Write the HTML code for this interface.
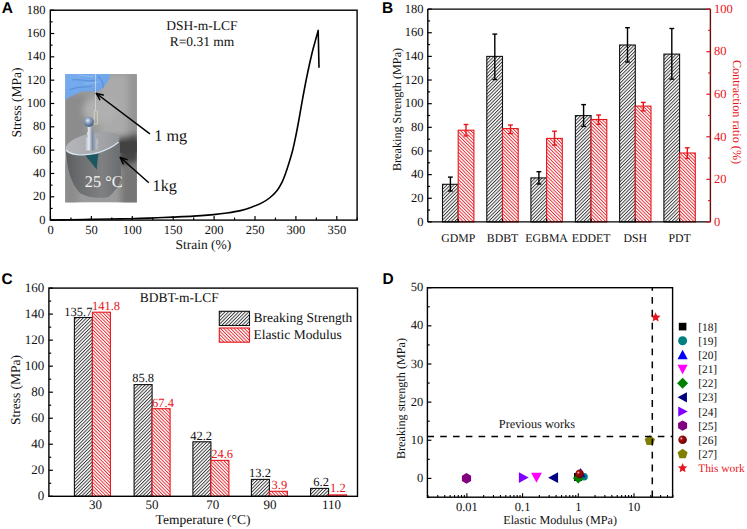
<!DOCTYPE html>
<html><head><meta charset="utf-8"><style>
html,body{margin:0;padding:0;background:#fff;}
svg{display:block;font-family:"Liberation Serif",serif;text-rendering:geometricPrecision;}
</style></head><body>
<svg width="747" height="529" viewBox="0 0 747 529" font-family="Liberation Serif, serif">
<rect width="747" height="529" fill="#fff"/>
<defs>
<pattern id="hatchK" patternUnits="userSpaceOnUse" width="2.4" height="2.4" patternTransform="rotate(45)">
<rect width="2.4" height="2.4" fill="#fff"/><line x1="0.5" y1="0" x2="0.5" y2="2.4" stroke="#222" stroke-width="0.85"/></pattern>
<pattern id="hatchR" patternUnits="userSpaceOnUse" width="2.4" height="2.4" patternTransform="rotate(-45)">
<rect width="2.4" height="2.4" fill="#fff"/><line x1="0.5" y1="0" x2="0.5" y2="2.4" stroke="#e8141c" stroke-width="0.85"/></pattern>
<radialGradient id="sph" cx="0.35" cy="0.35" r="0.7"><stop offset="0" stop-color="#ffd0d0"/><stop offset="0.25" stop-color="#a01010"/><stop offset="1" stop-color="#6a0000"/></radialGradient>
<linearGradient id="bgGrad" x1="0" y1="0" x2="1" y2="1"><stop offset="0" stop-color="#9a9a9c"/><stop offset="0.5" stop-color="#a8a8a8"/><stop offset="1" stop-color="#6e6e6e"/></linearGradient>
<linearGradient id="gloveGrad" x1="0" y1="0" x2="1" y2="1"><stop offset="0" stop-color="#78aef0"/><stop offset="0.6" stop-color="#70a5ea"/><stop offset="1" stop-color="#6498e0"/></linearGradient>
<linearGradient id="cylGrad" x1="0" y1="0" x2="1" y2="0"><stop offset="0" stop-color="#5c5e60"/><stop offset="0.3" stop-color="#6e7072"/><stop offset="0.65" stop-color="#7e8082"/><stop offset="1" stop-color="#6a6c6e"/></linearGradient>
<linearGradient id="topGrad" x1="0" y1="0" x2="1" y2="0"><stop offset="0" stop-color="#b4b6b9"/><stop offset="0.5" stop-color="#a9abae"/><stop offset="1" stop-color="#94969a"/></linearGradient>
<radialGradient id="ballGrad" cx="0.4" cy="0.35" r="0.7"><stop offset="0" stop-color="#e8eef6"/><stop offset="0.4" stop-color="#8aa0bc"/><stop offset="1" stop-color="#3c5274"/></radialGradient>
<linearGradient id="knobGrad" x1="0" y1="0" x2="1" y2="0"><stop offset="0" stop-color="#9aa2ac"/><stop offset="0.35" stop-color="#e8eaee"/><stop offset="0.6" stop-color="#7c8aa0"/><stop offset="1" stop-color="#c8ccd2"/></linearGradient>
<filter id="soft" x="-20%" y="-20%" width="140%" height="140%"><feGaussianBlur stdDeviation="3"/></filter>
<filter id="soft2" x="-10%" y="-10%" width="120%" height="120%"><feGaussianBlur stdDeviation="0.6"/></filter>
</defs>
<g id="photo">
<clipPath id="phclip"><rect x="65.2" y="73.9" width="71.7" height="128.7"/></clipPath>
<g clip-path="url(#phclip)">
<rect x="65.2" y="73.9" width="71.7" height="128.7" fill="#9a9a9a"/>
<g filter="url(#soft)">
<rect x="100" y="74" width="40" height="62" fill="#aaaaaa"/>
<rect x="62" y="95" width="24" height="55" fill="#8c8c8c"/>
<ellipse cx="100" cy="110" rx="17" ry="13" fill="#b0b0b0"/>
<rect x="128" y="74" width="12" height="60" fill="#959595"/>
<path d="M116 138 L140 133 L140 162 L120 166 Z" fill="#454545"/>
<rect x="121" y="166" width="20" height="40" fill="#767676"/>
<rect x="60" y="160" width="18" height="45" fill="#8c8c8c"/>
</g>
<g filter="url(#soft2)">
<path d="M117 142 L138 141.5 L138 152.5 L118 153 Z" fill="#424242"/>
<path d="M65.8 149 C66.5 168 71 183 79 192 C85 197.5 100 199 108 197 C114 193 119 186 121.2 178 L119.5 137 Z" fill="url(#cylGrad)"/>
<path d="M65.6 148.4 C66 142 80 134 98 132.5 C110 131.8 119.5 133 119.5 138 C119.5 143 108 150 94 153.5 C82 156 66 155 65.6 148.4 Z" fill="url(#topGrad)"/>
<path d="M66 150 C70 155 82 156 94 153.8 C105 151 113 147 118.6 142" stroke="#d4e2f2" stroke-width="1.4" fill="none"/>
<path d="M85.5 155.5 L98.5 153.8 C97.5 159 97 165 96.8 169.5 C93 165 89 160 85.5 155.5 Z" fill="#1f5862"/>
<path d="M64 73 H110 C110.5 78 108 82 104.5 86 C101 90 98 91.5 93 91.5 C88 91.5 85 90.5 81 92 C76 93.5 70 96.5 64 101 Z" fill="url(#gloveGrad)"/>
<path d="M72 80 C80 78 88 83 96 80 M70 90 C76 86 84 88 92 86 M98 76 C102 80 104 84 103 88" stroke="#4d84cc" stroke-width="1.2" fill="none" opacity="0.6"/>
<path d="M78 76 C84 74 90 78 94 76 M84 84 C88 82 94 84 99 82" stroke="#9cc4f4" stroke-width="1.2" fill="none" opacity="0.6"/>
</g>
<line x1="95.5" y1="74" x2="95.6" y2="111" stroke="#e4eaee" stroke-width="0.8" opacity="0.75"/>
<path d="M94.5 110 L93.8 124 M97.2 110 L97.6 124 M93.8 124 L97.6 124" stroke="#d9d2bb" stroke-width="0.9" fill="none"/>
<path d="M87 125 L92 125 L92.5 131 C95 132 96 134 94 136.5 C98 138.5 99 142 97 145 C98 147 98 149 96.5 150.5 L85.5 150.5 C84 149 84 147 85 145 C83 142 84 138.5 88 136.5 C86 134 87 132 88 131 Z" fill="url(#knobGrad)"/>
<circle cx="88.8" cy="122" r="5" fill="url(#ballGrad)"/>
<text x="84.8" y="187" font-size="16.3" fill="#f6f6f6">25 °C</text>
</g>
</g>
<path d="M50.60 220.00 C53.83 219.97 63.43 219.90 70.00 219.80 C76.57 219.70 83.33 219.53 90.00 219.40 C96.67 219.27 104.17 219.10 110.00 219.00 C115.83 218.90 120.00 218.90 125.00 218.80 C130.00 218.70 134.67 218.57 140.00 218.40 C145.33 218.23 151.53 218.02 157.00 217.80 C162.47 217.58 166.72 217.38 172.80 217.10 C178.88 216.82 186.70 216.52 193.50 216.10 C200.30 215.68 208.02 215.12 213.60 214.60 C219.18 214.08 222.52 213.67 227.00 213.00 C231.48 212.33 236.42 211.57 240.50 210.60 C244.58 209.63 247.87 208.53 251.50 207.20 C255.13 205.87 259.30 204.13 262.30 202.60 C265.30 201.07 267.10 199.93 269.50 198.00 C271.90 196.07 274.60 193.65 276.70 191.00 C278.80 188.35 280.60 185.08 282.10 182.10 C283.60 179.12 284.52 176.40 285.70 173.10 C286.88 169.80 288.02 166.20 289.20 162.30 C290.38 158.40 291.75 153.83 292.80 149.70 C293.85 145.57 294.53 142.20 295.50 137.50 C296.47 132.80 297.32 128.50 298.60 121.50 C299.88 114.50 301.68 103.67 303.20 95.50 C304.72 87.33 306.18 79.75 307.70 72.50 C309.22 65.25 310.97 57.50 312.30 52.00 C313.63 46.50 314.72 43.10 315.70 39.50 C316.68 35.90 317.78 31.92 318.20 30.40 L319.0 67.7" fill="none" stroke="#000" stroke-width="1.6" stroke-linejoin="round"/>
<rect x="50.3" y="10.2" width="306.8" height="209.9" fill="none" stroke="#000" stroke-width="1.4"/>
<line x1="50.30" y1="220.10" x2="54.30" y2="220.10" stroke="#000" stroke-width="1.2" />
<text x="45.40" y="223.60" font-size="12.5" text-anchor="end" fill="#111" >0</text>
<line x1="50.30" y1="208.44" x2="52.60" y2="208.44" stroke="#000" stroke-width="1.2" />
<line x1="50.30" y1="196.78" x2="54.30" y2="196.78" stroke="#000" stroke-width="1.2" />
<text x="45.40" y="200.28" font-size="12.5" text-anchor="end" fill="#111" >20</text>
<line x1="50.30" y1="185.12" x2="52.60" y2="185.12" stroke="#000" stroke-width="1.2" />
<line x1="50.30" y1="173.46" x2="54.30" y2="173.46" stroke="#000" stroke-width="1.2" />
<text x="45.40" y="176.96" font-size="12.5" text-anchor="end" fill="#111" >40</text>
<line x1="50.30" y1="161.79" x2="52.60" y2="161.79" stroke="#000" stroke-width="1.2" />
<line x1="50.30" y1="150.13" x2="54.30" y2="150.13" stroke="#000" stroke-width="1.2" />
<text x="45.40" y="153.63" font-size="12.5" text-anchor="end" fill="#111" >60</text>
<line x1="50.30" y1="138.47" x2="52.60" y2="138.47" stroke="#000" stroke-width="1.2" />
<line x1="50.30" y1="126.81" x2="54.30" y2="126.81" stroke="#000" stroke-width="1.2" />
<text x="45.40" y="130.31" font-size="12.5" text-anchor="end" fill="#111" >80</text>
<line x1="50.30" y1="115.15" x2="52.60" y2="115.15" stroke="#000" stroke-width="1.2" />
<line x1="50.30" y1="103.49" x2="54.30" y2="103.49" stroke="#000" stroke-width="1.2" />
<text x="45.40" y="106.99" font-size="12.5" text-anchor="end" fill="#111" >100</text>
<line x1="50.30" y1="91.83" x2="52.60" y2="91.83" stroke="#000" stroke-width="1.2" />
<line x1="50.30" y1="80.17" x2="54.30" y2="80.17" stroke="#000" stroke-width="1.2" />
<text x="45.40" y="83.67" font-size="12.5" text-anchor="end" fill="#111" >120</text>
<line x1="50.30" y1="68.51" x2="52.60" y2="68.51" stroke="#000" stroke-width="1.2" />
<line x1="50.30" y1="56.84" x2="54.30" y2="56.84" stroke="#000" stroke-width="1.2" />
<text x="45.40" y="60.34" font-size="12.5" text-anchor="end" fill="#111" >140</text>
<line x1="50.30" y1="45.18" x2="52.60" y2="45.18" stroke="#000" stroke-width="1.2" />
<line x1="50.30" y1="33.52" x2="54.30" y2="33.52" stroke="#000" stroke-width="1.2" />
<text x="45.40" y="37.02" font-size="12.5" text-anchor="end" fill="#111" >160</text>
<line x1="50.30" y1="21.86" x2="52.60" y2="21.86" stroke="#000" stroke-width="1.2" />
<line x1="50.30" y1="10.20" x2="54.30" y2="10.20" stroke="#000" stroke-width="1.2" />
<text x="45.40" y="13.70" font-size="12.5" text-anchor="end" fill="#111" >180</text>
<line x1="50.50" y1="220.10" x2="50.50" y2="216.10" stroke="#000" stroke-width="1.2" />
<text x="50.50" y="234.20" font-size="12.5" text-anchor="middle" fill="#111" >0</text>
<line x1="70.95" y1="220.10" x2="70.95" y2="217.60" stroke="#000" stroke-width="1.2" />
<line x1="91.40" y1="220.10" x2="91.40" y2="216.10" stroke="#000" stroke-width="1.2" />
<text x="91.40" y="234.20" font-size="12.5" text-anchor="middle" fill="#111" >50</text>
<line x1="111.85" y1="220.10" x2="111.85" y2="217.60" stroke="#000" stroke-width="1.2" />
<line x1="132.30" y1="220.10" x2="132.30" y2="216.10" stroke="#000" stroke-width="1.2" />
<text x="132.30" y="234.20" font-size="12.5" text-anchor="middle" fill="#111" >100</text>
<line x1="152.75" y1="220.10" x2="152.75" y2="217.60" stroke="#000" stroke-width="1.2" />
<line x1="173.20" y1="220.10" x2="173.20" y2="216.10" stroke="#000" stroke-width="1.2" />
<text x="173.20" y="234.20" font-size="12.5" text-anchor="middle" fill="#111" >150</text>
<line x1="193.65" y1="220.10" x2="193.65" y2="217.60" stroke="#000" stroke-width="1.2" />
<line x1="214.10" y1="220.10" x2="214.10" y2="216.10" stroke="#000" stroke-width="1.2" />
<text x="214.10" y="234.20" font-size="12.5" text-anchor="middle" fill="#111" >200</text>
<line x1="234.55" y1="220.10" x2="234.55" y2="217.60" stroke="#000" stroke-width="1.2" />
<line x1="255.00" y1="220.10" x2="255.00" y2="216.10" stroke="#000" stroke-width="1.2" />
<text x="255.00" y="234.20" font-size="12.5" text-anchor="middle" fill="#111" >250</text>
<line x1="275.45" y1="220.10" x2="275.45" y2="217.60" stroke="#000" stroke-width="1.2" />
<line x1="295.90" y1="220.10" x2="295.90" y2="216.10" stroke="#000" stroke-width="1.2" />
<text x="295.90" y="234.20" font-size="12.5" text-anchor="middle" fill="#111" >300</text>
<line x1="316.35" y1="220.10" x2="316.35" y2="217.60" stroke="#000" stroke-width="1.2" />
<line x1="336.80" y1="220.10" x2="336.80" y2="216.10" stroke="#000" stroke-width="1.2" />
<text x="336.80" y="234.20" font-size="12.5" text-anchor="middle" fill="#111" >350</text>
<line x1="357.25" y1="220.10" x2="357.25" y2="217.60" stroke="#000" stroke-width="1.2" />
<text x="203.40" y="249.10" font-size="13.5" text-anchor="middle" fill="#111" >Strain (%)</text>
<text transform="translate(21.3,102.5) rotate(-90)" font-size="13.5" text-anchor="middle" fill="#111">Stress (MPa)</text>
<text x="202.00" y="29.60" font-size="13.5" text-anchor="middle" fill="#111" >DSH-m-LCF</text>
<text x="202.00" y="46.10" font-size="13.5" text-anchor="middle" fill="#111" >R=0.31 mm</text>
<line x1="149.90" y1="133.90" x2="96.40" y2="93.50" stroke="#000" stroke-width="1.5" />
<line x1="96.40" y1="93.50" x2="99.78" y2="99.63" stroke="#000" stroke-width="1.5" stroke-linecap="round"/>
<line x1="96.40" y1="93.50" x2="103.22" y2="95.07" stroke="#000" stroke-width="1.5" stroke-linecap="round"/>
<line x1="148.80" y1="182.70" x2="120.30" y2="157.50" stroke="#000" stroke-width="1.5" />
<line x1="120.30" y1="157.50" x2="123.20" y2="163.87" stroke="#000" stroke-width="1.5" stroke-linecap="round"/>
<line x1="120.30" y1="157.50" x2="126.98" y2="159.60" stroke="#000" stroke-width="1.5" stroke-linecap="round"/>
<text x="154.30" y="140.70" font-size="16.2" text-anchor="start" fill="#111" >1 mg</text>
<text x="152.60" y="190.80" font-size="16.2" text-anchor="start" fill="#111" >1kg</text>
<rect x="442.50" y="184.3" width="15.7" height="37.60" fill="url(#hatchK)" stroke="#111" stroke-width="1.1"/>
<rect x="458.20" y="130.2" width="15.7" height="91.70" fill="url(#hatchR)" stroke="#e8141c" stroke-width="1.1"/>
<rect x="486.80" y="56.4" width="15.7" height="165.50" fill="url(#hatchK)" stroke="#111" stroke-width="1.1"/>
<rect x="502.50" y="128.6" width="15.7" height="93.30" fill="url(#hatchR)" stroke="#e8141c" stroke-width="1.1"/>
<rect x="530.90" y="177.9" width="15.7" height="44.00" fill="url(#hatchK)" stroke="#111" stroke-width="1.1"/>
<rect x="546.60" y="138.4" width="15.7" height="83.50" fill="url(#hatchR)" stroke="#e8141c" stroke-width="1.1"/>
<rect x="575.40" y="115.6" width="15.7" height="106.30" fill="url(#hatchK)" stroke="#111" stroke-width="1.1"/>
<rect x="591.10" y="119.5" width="15.7" height="102.40" fill="url(#hatchR)" stroke="#e8141c" stroke-width="1.1"/>
<rect x="619.60" y="45.0" width="15.7" height="176.90" fill="url(#hatchK)" stroke="#111" stroke-width="1.1"/>
<rect x="635.30" y="106.1" width="15.7" height="115.80" fill="url(#hatchR)" stroke="#e8141c" stroke-width="1.1"/>
<rect x="663.90" y="54.1" width="15.7" height="167.80" fill="url(#hatchK)" stroke="#111" stroke-width="1.1"/>
<rect x="679.60" y="153.0" width="15.7" height="68.90" fill="url(#hatchR)" stroke="#e8141c" stroke-width="1.1"/>
<line x1="450.40" y1="177.10" x2="450.40" y2="191.00" stroke="#000" stroke-width="1.4" />
<line x1="448.00" y1="177.10" x2="452.80" y2="177.10" stroke="#000" stroke-width="1.4" />
<line x1="448.00" y1="191.00" x2="452.80" y2="191.00" stroke="#000" stroke-width="1.4" />
<line x1="466.00" y1="124.50" x2="466.00" y2="135.90" stroke="#e8141c" stroke-width="1.4" />
<line x1="463.60" y1="124.50" x2="468.40" y2="124.50" stroke="#e8141c" stroke-width="1.4" />
<line x1="463.60" y1="135.90" x2="468.40" y2="135.90" stroke="#e8141c" stroke-width="1.4" />
<text x="458.20" y="242.10" font-size="11.8" text-anchor="middle" fill="#111" >GDMP</text>
<line x1="494.80" y1="34.10" x2="494.80" y2="79.50" stroke="#000" stroke-width="1.4" />
<line x1="492.40" y1="34.10" x2="497.20" y2="34.10" stroke="#000" stroke-width="1.4" />
<line x1="492.40" y1="79.50" x2="497.20" y2="79.50" stroke="#000" stroke-width="1.4" />
<line x1="510.50" y1="125.00" x2="510.50" y2="133.60" stroke="#e8141c" stroke-width="1.4" />
<line x1="508.10" y1="125.00" x2="512.90" y2="125.00" stroke="#e8141c" stroke-width="1.4" />
<line x1="508.10" y1="133.60" x2="512.90" y2="133.60" stroke="#e8141c" stroke-width="1.4" />
<text x="502.50" y="242.10" font-size="11.8" text-anchor="middle" fill="#111" >BDBT</text>
<line x1="538.90" y1="171.70" x2="538.90" y2="184.00" stroke="#000" stroke-width="1.4" />
<line x1="536.50" y1="171.70" x2="541.30" y2="171.70" stroke="#000" stroke-width="1.4" />
<line x1="536.50" y1="184.00" x2="541.30" y2="184.00" stroke="#000" stroke-width="1.4" />
<line x1="554.50" y1="131.20" x2="554.50" y2="145.10" stroke="#e8141c" stroke-width="1.4" />
<line x1="552.10" y1="131.20" x2="556.90" y2="131.20" stroke="#e8141c" stroke-width="1.4" />
<line x1="552.10" y1="145.10" x2="556.90" y2="145.10" stroke="#e8141c" stroke-width="1.4" />
<text x="546.60" y="242.10" font-size="11.8" text-anchor="middle" fill="#111" >EGBMA</text>
<line x1="583.60" y1="104.60" x2="583.60" y2="126.40" stroke="#000" stroke-width="1.4" />
<line x1="581.20" y1="104.60" x2="586.00" y2="104.60" stroke="#000" stroke-width="1.4" />
<line x1="581.20" y1="126.40" x2="586.00" y2="126.40" stroke="#000" stroke-width="1.4" />
<line x1="598.60" y1="115.00" x2="598.60" y2="124.30" stroke="#e8141c" stroke-width="1.4" />
<line x1="596.20" y1="115.00" x2="601.00" y2="115.00" stroke="#e8141c" stroke-width="1.4" />
<line x1="596.20" y1="124.30" x2="601.00" y2="124.30" stroke="#e8141c" stroke-width="1.4" />
<text x="591.10" y="242.10" font-size="11.8" text-anchor="middle" fill="#111" >EDDET</text>
<line x1="627.50" y1="27.70" x2="627.50" y2="62.00" stroke="#000" stroke-width="1.4" />
<line x1="625.10" y1="27.70" x2="629.90" y2="27.70" stroke="#000" stroke-width="1.4" />
<line x1="625.10" y1="62.00" x2="629.90" y2="62.00" stroke="#000" stroke-width="1.4" />
<line x1="643.30" y1="102.40" x2="643.30" y2="110.90" stroke="#e8141c" stroke-width="1.4" />
<line x1="640.90" y1="102.40" x2="645.70" y2="102.40" stroke="#e8141c" stroke-width="1.4" />
<line x1="640.90" y1="110.90" x2="645.70" y2="110.90" stroke="#e8141c" stroke-width="1.4" />
<text x="635.30" y="242.10" font-size="11.8" text-anchor="middle" fill="#111" >DSH</text>
<line x1="671.80" y1="28.50" x2="671.80" y2="79.10" stroke="#000" stroke-width="1.4" />
<line x1="669.40" y1="28.50" x2="674.20" y2="28.50" stroke="#000" stroke-width="1.4" />
<line x1="669.40" y1="79.10" x2="674.20" y2="79.10" stroke="#000" stroke-width="1.4" />
<line x1="687.30" y1="147.80" x2="687.30" y2="158.40" stroke="#e8141c" stroke-width="1.4" />
<line x1="684.90" y1="147.80" x2="689.70" y2="147.80" stroke="#e8141c" stroke-width="1.4" />
<line x1="684.90" y1="158.40" x2="689.70" y2="158.40" stroke="#e8141c" stroke-width="1.4" />
<text x="679.60" y="242.10" font-size="11.8" text-anchor="middle" fill="#111" >PDT</text>
<line x1="427.80" y1="9.10" x2="710.40" y2="9.10" stroke="#000" stroke-width="1.4" />
<line x1="427.80" y1="9.10" x2="427.80" y2="221.90" stroke="#000" stroke-width="1.4" />
<line x1="427.80" y1="221.90" x2="710.40" y2="221.90" stroke="#000" stroke-width="1.4" />
<line x1="458.20" y1="221.90" x2="458.20" y2="218.90" stroke="#000" stroke-width="1.2" />
<line x1="502.50" y1="221.90" x2="502.50" y2="218.90" stroke="#000" stroke-width="1.2" />
<line x1="546.60" y1="221.90" x2="546.60" y2="218.90" stroke="#000" stroke-width="1.2" />
<line x1="591.10" y1="221.90" x2="591.10" y2="218.90" stroke="#000" stroke-width="1.2" />
<line x1="635.30" y1="221.90" x2="635.30" y2="218.90" stroke="#000" stroke-width="1.2" />
<line x1="679.60" y1="221.90" x2="679.60" y2="218.90" stroke="#000" stroke-width="1.2" />
<line x1="710.40" y1="9.10" x2="710.40" y2="221.90" stroke="#6a0a0a" stroke-width="1.4" />
<line x1="427.80" y1="221.90" x2="431.80" y2="221.90" stroke="#000" stroke-width="1.2" />
<text x="423.60" y="225.50" font-size="12.5" text-anchor="end" fill="#111" >0</text>
<line x1="427.80" y1="210.08" x2="430.10" y2="210.08" stroke="#000" stroke-width="1.2" />
<line x1="427.80" y1="198.26" x2="431.80" y2="198.26" stroke="#000" stroke-width="1.2" />
<text x="423.60" y="201.86" font-size="12.5" text-anchor="end" fill="#111" >20</text>
<line x1="427.80" y1="186.43" x2="430.10" y2="186.43" stroke="#000" stroke-width="1.2" />
<line x1="427.80" y1="174.61" x2="431.80" y2="174.61" stroke="#000" stroke-width="1.2" />
<text x="423.60" y="178.21" font-size="12.5" text-anchor="end" fill="#111" >40</text>
<line x1="427.80" y1="162.79" x2="430.10" y2="162.79" stroke="#000" stroke-width="1.2" />
<line x1="427.80" y1="150.97" x2="431.80" y2="150.97" stroke="#000" stroke-width="1.2" />
<text x="423.60" y="154.57" font-size="12.5" text-anchor="end" fill="#111" >60</text>
<line x1="427.80" y1="139.14" x2="430.10" y2="139.14" stroke="#000" stroke-width="1.2" />
<line x1="427.80" y1="127.32" x2="431.80" y2="127.32" stroke="#000" stroke-width="1.2" />
<text x="423.60" y="130.92" font-size="12.5" text-anchor="end" fill="#111" >80</text>
<line x1="427.80" y1="115.50" x2="430.10" y2="115.50" stroke="#000" stroke-width="1.2" />
<line x1="427.80" y1="103.68" x2="431.80" y2="103.68" stroke="#000" stroke-width="1.2" />
<text x="423.60" y="107.28" font-size="12.5" text-anchor="end" fill="#111" >100</text>
<line x1="427.80" y1="91.86" x2="430.10" y2="91.86" stroke="#000" stroke-width="1.2" />
<line x1="427.80" y1="80.03" x2="431.80" y2="80.03" stroke="#000" stroke-width="1.2" />
<text x="423.60" y="83.63" font-size="12.5" text-anchor="end" fill="#111" >120</text>
<line x1="427.80" y1="68.21" x2="430.10" y2="68.21" stroke="#000" stroke-width="1.2" />
<line x1="427.80" y1="56.39" x2="431.80" y2="56.39" stroke="#000" stroke-width="1.2" />
<text x="423.60" y="59.99" font-size="12.5" text-anchor="end" fill="#111" >140</text>
<line x1="427.80" y1="44.57" x2="430.10" y2="44.57" stroke="#000" stroke-width="1.2" />
<line x1="427.80" y1="32.74" x2="431.80" y2="32.74" stroke="#000" stroke-width="1.2" />
<text x="423.60" y="36.34" font-size="12.5" text-anchor="end" fill="#111" >160</text>
<line x1="427.80" y1="20.92" x2="430.10" y2="20.92" stroke="#000" stroke-width="1.2" />
<line x1="427.80" y1="9.10" x2="431.80" y2="9.10" stroke="#000" stroke-width="1.2" />
<text x="423.60" y="12.70" font-size="12.5" text-anchor="end" fill="#111" >180</text>
<line x1="710.40" y1="221.90" x2="706.40" y2="221.90" stroke="#e8141c" stroke-width="1.2" />
<text x="714.00" y="225.70" font-size="12.5" text-anchor="start" fill="#e8141c" >0</text>
<line x1="710.40" y1="200.62" x2="708.10" y2="200.62" stroke="#e8141c" stroke-width="1.2" />
<line x1="710.40" y1="179.34" x2="706.40" y2="179.34" stroke="#e8141c" stroke-width="1.2" />
<text x="714.00" y="183.14" font-size="12.5" text-anchor="start" fill="#e8141c" >20</text>
<line x1="710.40" y1="158.06" x2="708.10" y2="158.06" stroke="#e8141c" stroke-width="1.2" />
<line x1="710.40" y1="136.78" x2="706.40" y2="136.78" stroke="#e8141c" stroke-width="1.2" />
<text x="714.00" y="140.58" font-size="12.5" text-anchor="start" fill="#e8141c" >40</text>
<line x1="710.40" y1="115.50" x2="708.10" y2="115.50" stroke="#e8141c" stroke-width="1.2" />
<line x1="710.40" y1="94.22" x2="706.40" y2="94.22" stroke="#e8141c" stroke-width="1.2" />
<text x="714.00" y="98.02" font-size="12.5" text-anchor="start" fill="#e8141c" >60</text>
<line x1="710.40" y1="72.94" x2="708.10" y2="72.94" stroke="#e8141c" stroke-width="1.2" />
<line x1="710.40" y1="51.66" x2="706.40" y2="51.66" stroke="#e8141c" stroke-width="1.2" />
<text x="714.00" y="55.46" font-size="12.5" text-anchor="start" fill="#e8141c" >80</text>
<line x1="710.40" y1="30.38" x2="708.10" y2="30.38" stroke="#e8141c" stroke-width="1.2" />
<line x1="710.40" y1="9.10" x2="706.40" y2="9.10" stroke="#e8141c" stroke-width="1.2" />
<text x="714.00" y="12.90" font-size="12.5" text-anchor="start" fill="#e8141c" >100</text>
<text transform="translate(401.3,109.5) rotate(-90)" font-size="12.2" text-anchor="middle" fill="#111">Breaking Strength (MPa)</text>
<text transform="translate(733.1,112) rotate(90)" font-size="12.2" text-anchor="middle" fill="#e8141c">Contraction ratio (%)</text>
<rect x="74.40" y="317.50" width="18.0" height="178.80" fill="url(#hatchK)" stroke="#111" stroke-width="1.1"/>
<rect x="92.40" y="312.20" width="18.0" height="184.10" fill="url(#hatchR)" stroke="#e8141c" stroke-width="1.1"/>
<rect x="134.10" y="384.60" width="18.0" height="111.70" fill="url(#hatchK)" stroke="#111" stroke-width="1.1"/>
<rect x="152.10" y="408.70" width="18.0" height="87.60" fill="url(#hatchR)" stroke="#e8141c" stroke-width="1.1"/>
<rect x="192.90" y="441.80" width="18.0" height="54.50" fill="url(#hatchK)" stroke="#111" stroke-width="1.1"/>
<rect x="210.90" y="460.40" width="18.0" height="35.90" fill="url(#hatchR)" stroke="#e8141c" stroke-width="1.1"/>
<rect x="251.40" y="479.40" width="18.0" height="16.90" fill="url(#hatchK)" stroke="#111" stroke-width="1.1"/>
<rect x="269.40" y="491.30" width="18.0" height="5.00" fill="url(#hatchR)" stroke="#e8141c" stroke-width="1.1"/>
<rect x="310.60" y="488.40" width="18.0" height="7.90" fill="url(#hatchK)" stroke="#111" stroke-width="1.1"/>
<rect x="328.60" y="494.90" width="18.0" height="1.40" fill="url(#hatchR)" stroke="#e8141c" stroke-width="1.1"/>
<rect x="48.9" y="288.1" width="308.6" height="208.2" fill="none" stroke="#000" stroke-width="1.4"/>
<line x1="48.90" y1="496.30" x2="52.90" y2="496.30" stroke="#000" stroke-width="1.2" />
<text x="44.20" y="499.80" font-size="13" text-anchor="end" fill="#111" >0</text>
<line x1="48.90" y1="483.29" x2="51.20" y2="483.29" stroke="#000" stroke-width="1.2" />
<line x1="48.90" y1="470.28" x2="52.90" y2="470.28" stroke="#000" stroke-width="1.2" />
<text x="44.20" y="473.78" font-size="13" text-anchor="end" fill="#111" >20</text>
<line x1="48.90" y1="457.26" x2="51.20" y2="457.26" stroke="#000" stroke-width="1.2" />
<line x1="48.90" y1="444.25" x2="52.90" y2="444.25" stroke="#000" stroke-width="1.2" />
<text x="44.20" y="447.75" font-size="13" text-anchor="end" fill="#111" >40</text>
<line x1="48.90" y1="431.24" x2="51.20" y2="431.24" stroke="#000" stroke-width="1.2" />
<line x1="48.90" y1="418.23" x2="52.90" y2="418.23" stroke="#000" stroke-width="1.2" />
<text x="44.20" y="421.73" font-size="13" text-anchor="end" fill="#111" >60</text>
<line x1="48.90" y1="405.21" x2="51.20" y2="405.21" stroke="#000" stroke-width="1.2" />
<line x1="48.90" y1="392.20" x2="52.90" y2="392.20" stroke="#000" stroke-width="1.2" />
<text x="44.20" y="395.70" font-size="13" text-anchor="end" fill="#111" >80</text>
<line x1="48.90" y1="379.19" x2="51.20" y2="379.19" stroke="#000" stroke-width="1.2" />
<line x1="48.90" y1="366.18" x2="52.90" y2="366.18" stroke="#000" stroke-width="1.2" />
<text x="44.20" y="369.68" font-size="13" text-anchor="end" fill="#111" >100</text>
<line x1="48.90" y1="353.16" x2="51.20" y2="353.16" stroke="#000" stroke-width="1.2" />
<line x1="48.90" y1="340.15" x2="52.90" y2="340.15" stroke="#000" stroke-width="1.2" />
<text x="44.20" y="343.65" font-size="13" text-anchor="end" fill="#111" >120</text>
<line x1="48.90" y1="327.14" x2="51.20" y2="327.14" stroke="#000" stroke-width="1.2" />
<line x1="48.90" y1="314.12" x2="52.90" y2="314.12" stroke="#000" stroke-width="1.2" />
<text x="44.20" y="317.62" font-size="13" text-anchor="end" fill="#111" >140</text>
<line x1="48.90" y1="301.11" x2="51.20" y2="301.11" stroke="#000" stroke-width="1.2" />
<line x1="48.90" y1="288.10" x2="52.90" y2="288.10" stroke="#000" stroke-width="1.2" />
<text x="44.20" y="291.60" font-size="13" text-anchor="end" fill="#111" >160</text>
<text x="92.40" y="315.70" font-size="12.5" text-anchor="end" fill="#111" >135.7</text>
<text x="91.90" y="309.70" font-size="12.5" text-anchor="start" fill="#e8141c" >141.8</text>
<text x="154.00" y="382.30" font-size="12.5" text-anchor="end" fill="#111" >85.8</text>
<text x="152.00" y="407.20" font-size="12.5" text-anchor="start" fill="#e8141c" >67.4</text>
<text x="212.00" y="439.60" font-size="12.5" text-anchor="end" fill="#111" >42.2</text>
<text x="211.20" y="458.30" font-size="12.5" text-anchor="start" fill="#e8141c" >24.6</text>
<text x="270.90" y="476.50" font-size="12.5" text-anchor="end" fill="#111" >13.2</text>
<text x="271.60" y="488.80" font-size="12.5" text-anchor="start" fill="#e8141c" >3.9</text>
<text x="328.90" y="485.70" font-size="12.5" text-anchor="end" fill="#111" >6.2</text>
<text x="330.00" y="492.40" font-size="12.5" text-anchor="start" fill="#e8141c" >1.2</text>
<text x="95.40" y="509.30" font-size="13" text-anchor="middle" fill="#111" >30</text>
<text x="152.00" y="509.30" font-size="13" text-anchor="middle" fill="#111" >50</text>
<text x="212.80" y="509.30" font-size="13" text-anchor="middle" fill="#111" >70</text>
<text x="270.00" y="509.30" font-size="13" text-anchor="middle" fill="#111" >90</text>
<text x="331.50" y="509.30" font-size="13" text-anchor="middle" fill="#111" >110</text>
<text x="203.00" y="524.40" font-size="13.5" text-anchor="middle" fill="#111" >Temperature (°C)</text>
<text transform="translate(19.6,390) rotate(-90)" font-size="13.5" text-anchor="middle" fill="#111">Stress (MPa)</text>
<text x="179.30" y="302.40" font-size="13.5" text-anchor="middle" fill="#111" >BDBT-m-LCF</text>
<rect x="219.3" y="311.3" width="30.2" height="14.2" fill="url(#hatchK)" stroke="#111" stroke-width="1.1"/>
<rect x="219.3" y="328.0" width="30.2" height="14.2" fill="url(#hatchR)" stroke="#e8141c" stroke-width="1.1"/>
<text x="253.60" y="322.10" font-size="13.5" text-anchor="start" fill="#111" >Breaking Strength</text>
<text x="253.60" y="338.70" font-size="13.5" text-anchor="start" fill="#111" >Elastic Modulus</text>
<polygon points="466.50,473.10 461.91,475.75 461.91,481.05 466.50,483.70 471.09,481.05 471.09,475.75" fill="#800080"/>
<polygon points="528.70,477.60 518.89,472.30 518.89,482.90" fill="#8000ff"/>
<polygon points="536.50,482.80 541.90,472.81 531.10,472.81" fill="#ff00ff"/>
<polygon points="548.10,477.70 558.09,472.30 558.09,483.10" fill="#000080"/>
<rect x="574.0" y="473.0" width="8.0" height="8.0" fill="#000"/>
<circle cx="584.0" cy="476.7" r="3.8" fill="#008080"/>
<polygon points="580.60,468.00 585.60,477.25 575.60,477.25" fill="#0000ff"/>
<polygon points="578.3,472.8 583.6999999999999,478.2 578.3,483.59999999999997 572.9,478.2" fill="#008000"/>
<circle cx="579.6" cy="473.9" r="4.3" fill="url(#sph)"/>
<polygon points="649.80,435.20 644.66,438.93 646.63,444.97 652.97,444.97 654.94,438.93" fill="#808000"/>
<polygon points="655.60,312.20 654.19,315.46 650.65,315.79 653.33,318.14 652.54,321.61 655.60,319.79 658.66,321.61 657.87,318.14 660.55,315.79 657.01,315.46" fill="#e8141c"/>
<line x1="427.4" y1="436.4" x2="672.6" y2="436.4" stroke="#000" stroke-width="1.5" stroke-dasharray="6.6 6.2"/>
<line x1="652.3" y1="497.2" x2="652.3" y2="287.7" stroke="#000" stroke-width="1.5" stroke-dasharray="6.8 6.1"/>
<rect x="427.4" y="287.7" width="245.20000000000005" height="209.5" fill="none" stroke="#000" stroke-width="1.4"/>
<line x1="427.40" y1="497.47" x2="429.70" y2="497.47" stroke="#000" stroke-width="1.2" />
<line x1="427.40" y1="478.40" x2="431.40" y2="478.40" stroke="#000" stroke-width="1.2" />
<text x="423.30" y="482.00" font-size="12.5" text-anchor="end" fill="#111" >0</text>
<line x1="427.40" y1="459.33" x2="429.70" y2="459.33" stroke="#000" stroke-width="1.2" />
<line x1="427.40" y1="440.26" x2="431.40" y2="440.26" stroke="#000" stroke-width="1.2" />
<text x="423.30" y="443.86" font-size="12.5" text-anchor="end" fill="#111" >10</text>
<line x1="427.40" y1="421.19" x2="429.70" y2="421.19" stroke="#000" stroke-width="1.2" />
<line x1="427.40" y1="402.12" x2="431.40" y2="402.12" stroke="#000" stroke-width="1.2" />
<text x="423.30" y="405.72" font-size="12.5" text-anchor="end" fill="#111" >20</text>
<line x1="427.40" y1="383.05" x2="429.70" y2="383.05" stroke="#000" stroke-width="1.2" />
<line x1="427.40" y1="363.98" x2="431.40" y2="363.98" stroke="#000" stroke-width="1.2" />
<text x="423.30" y="367.58" font-size="12.5" text-anchor="end" fill="#111" >30</text>
<line x1="427.40" y1="344.91" x2="429.70" y2="344.91" stroke="#000" stroke-width="1.2" />
<line x1="427.40" y1="325.84" x2="431.40" y2="325.84" stroke="#000" stroke-width="1.2" />
<text x="423.30" y="329.44" font-size="12.5" text-anchor="end" fill="#111" >40</text>
<line x1="427.40" y1="306.77" x2="429.70" y2="306.77" stroke="#000" stroke-width="1.2" />
<line x1="427.40" y1="287.70" x2="431.40" y2="287.70" stroke="#000" stroke-width="1.2" />
<text x="423.30" y="291.30" font-size="12.5" text-anchor="end" fill="#111" >50</text>
<line x1="427.97" y1="497.20" x2="427.97" y2="495.00" stroke="#000" stroke-width="1.1" />
<line x1="437.78" y1="497.20" x2="437.78" y2="495.00" stroke="#000" stroke-width="1.1" />
<line x1="444.73" y1="497.20" x2="444.73" y2="495.00" stroke="#000" stroke-width="1.1" />
<line x1="450.13" y1="497.20" x2="450.13" y2="495.00" stroke="#000" stroke-width="1.1" />
<line x1="454.54" y1="497.20" x2="454.54" y2="495.00" stroke="#000" stroke-width="1.1" />
<line x1="458.27" y1="497.20" x2="458.27" y2="495.00" stroke="#000" stroke-width="1.1" />
<line x1="461.50" y1="497.20" x2="461.50" y2="495.00" stroke="#000" stroke-width="1.1" />
<line x1="464.35" y1="497.20" x2="464.35" y2="495.00" stroke="#000" stroke-width="1.1" />
<line x1="466.90" y1="497.20" x2="466.90" y2="493.20" stroke="#000" stroke-width="1.1" />
<line x1="483.67" y1="497.20" x2="483.67" y2="495.00" stroke="#000" stroke-width="1.1" />
<line x1="493.48" y1="497.20" x2="493.48" y2="495.00" stroke="#000" stroke-width="1.1" />
<line x1="500.43" y1="497.20" x2="500.43" y2="495.00" stroke="#000" stroke-width="1.1" />
<line x1="505.83" y1="497.20" x2="505.83" y2="495.00" stroke="#000" stroke-width="1.1" />
<line x1="510.24" y1="497.20" x2="510.24" y2="495.00" stroke="#000" stroke-width="1.1" />
<line x1="513.97" y1="497.20" x2="513.97" y2="495.00" stroke="#000" stroke-width="1.1" />
<line x1="517.20" y1="497.20" x2="517.20" y2="495.00" stroke="#000" stroke-width="1.1" />
<line x1="520.05" y1="497.20" x2="520.05" y2="495.00" stroke="#000" stroke-width="1.1" />
<line x1="522.60" y1="497.20" x2="522.60" y2="493.20" stroke="#000" stroke-width="1.1" />
<line x1="539.37" y1="497.20" x2="539.37" y2="495.00" stroke="#000" stroke-width="1.1" />
<line x1="549.18" y1="497.20" x2="549.18" y2="495.00" stroke="#000" stroke-width="1.1" />
<line x1="556.13" y1="497.20" x2="556.13" y2="495.00" stroke="#000" stroke-width="1.1" />
<line x1="561.53" y1="497.20" x2="561.53" y2="495.00" stroke="#000" stroke-width="1.1" />
<line x1="565.94" y1="497.20" x2="565.94" y2="495.00" stroke="#000" stroke-width="1.1" />
<line x1="569.67" y1="497.20" x2="569.67" y2="495.00" stroke="#000" stroke-width="1.1" />
<line x1="572.90" y1="497.20" x2="572.90" y2="495.00" stroke="#000" stroke-width="1.1" />
<line x1="575.75" y1="497.20" x2="575.75" y2="495.00" stroke="#000" stroke-width="1.1" />
<line x1="578.30" y1="497.20" x2="578.30" y2="493.20" stroke="#000" stroke-width="1.1" />
<line x1="595.07" y1="497.20" x2="595.07" y2="495.00" stroke="#000" stroke-width="1.1" />
<line x1="604.88" y1="497.20" x2="604.88" y2="495.00" stroke="#000" stroke-width="1.1" />
<line x1="611.83" y1="497.20" x2="611.83" y2="495.00" stroke="#000" stroke-width="1.1" />
<line x1="617.23" y1="497.20" x2="617.23" y2="495.00" stroke="#000" stroke-width="1.1" />
<line x1="621.64" y1="497.20" x2="621.64" y2="495.00" stroke="#000" stroke-width="1.1" />
<line x1="625.37" y1="497.20" x2="625.37" y2="495.00" stroke="#000" stroke-width="1.1" />
<line x1="628.60" y1="497.20" x2="628.60" y2="495.00" stroke="#000" stroke-width="1.1" />
<line x1="631.45" y1="497.20" x2="631.45" y2="495.00" stroke="#000" stroke-width="1.1" />
<line x1="634.00" y1="497.20" x2="634.00" y2="493.20" stroke="#000" stroke-width="1.1" />
<line x1="650.77" y1="497.20" x2="650.77" y2="495.00" stroke="#000" stroke-width="1.1" />
<line x1="660.58" y1="497.20" x2="660.58" y2="495.00" stroke="#000" stroke-width="1.1" />
<line x1="667.53" y1="497.20" x2="667.53" y2="495.00" stroke="#000" stroke-width="1.1" />
<line x1="672.93" y1="497.20" x2="672.93" y2="495.00" stroke="#000" stroke-width="1.1" />
<text x="466.90" y="510.50" font-size="12.5" text-anchor="middle" fill="#111" >0.01</text>
<text x="522.60" y="510.50" font-size="12.5" text-anchor="middle" fill="#111" >0.1</text>
<text x="578.30" y="510.50" font-size="12.5" text-anchor="middle" fill="#111" >1</text>
<text x="634.00" y="510.50" font-size="12.5" text-anchor="middle" fill="#111" >10</text>
<text x="560.10" y="524.40" font-size="12.2" text-anchor="middle" fill="#111" >Elastic Modulus (MPa)</text>
<text transform="translate(405.3,398.5) rotate(-90)" font-size="12.2" text-anchor="middle" fill="#111">Breaking strength (MPa)</text>
<text x="498.80" y="427.90" font-size="12.3" text-anchor="start" fill="#111" >Previous works</text>
<rect x="678.8000000000001" y="322.8" width="7.6" height="7.6" fill="#000"/>
<text x="698.20" y="330.60" font-size="11.4" text-anchor="start" fill="#111" >[18]</text>
<circle cx="682.6" cy="340.75" r="4.5" fill="#008080"/>
<text x="698.20" y="344.75" font-size="11.4" text-anchor="start" fill="#111" >[19]</text>
<polygon points="682.60,349.80 687.70,359.24 677.50,359.24" fill="#0000ff"/>
<text x="698.20" y="358.90" font-size="11.4" text-anchor="start" fill="#111" >[20]</text>
<polygon points="682.60,374.15 687.70,364.72 677.50,364.72" fill="#ff00ff"/>
<text x="698.20" y="373.05" font-size="11.4" text-anchor="start" fill="#111" >[21]</text>
<polygon points="682.6,377.70000000000005 688.1,383.20000000000005 682.6,388.70000000000005 677.1,383.20000000000005" fill="#008000"/>
<text x="698.20" y="387.20" font-size="11.4" text-anchor="start" fill="#111" >[22]</text>
<polygon points="677.50,397.35 686.94,392.25 686.94,402.45" fill="#000080"/>
<text x="698.20" y="401.35" font-size="11.4" text-anchor="start" fill="#111" >[23]</text>
<polygon points="687.70,411.50 678.26,406.40 678.26,416.60" fill="#8000ff"/>
<text x="698.20" y="415.50" font-size="11.4" text-anchor="start" fill="#111" >[24]</text>
<polygon points="682.60,420.45 678.10,423.05 678.10,428.25 682.60,430.85 687.10,428.25 687.10,423.05" fill="#800080"/>
<text x="698.20" y="429.65" font-size="11.4" text-anchor="start" fill="#111" >[25]</text>
<circle cx="682.6" cy="439.8" r="4.3" fill="url(#sph)"/>
<text x="698.20" y="443.80" font-size="11.4" text-anchor="start" fill="#111" >[26]</text>
<polygon points="682.60,448.65 677.56,452.31 679.48,458.24 685.72,458.24 687.64,452.31" fill="#808000"/>
<text x="698.20" y="457.95" font-size="11.4" text-anchor="start" fill="#111" >[27]</text>
<polygon points="682.60,463.10 681.25,466.24 677.84,466.55 680.41,468.81 679.66,472.15 682.60,470.40 685.54,472.15 684.79,468.81 687.36,466.55 683.95,466.24" fill="#e8141c"/>
<text x="698.20" y="472.10" font-size="11.4" text-anchor="start" fill="#e8141c" >This work</text>
<text x="1.8" y="12.9" font-family="Liberation Sans, sans-serif" font-weight="bold" font-size="15.5" fill="#000">A</text>
<text x="382.0" y="12.9" font-family="Liberation Sans, sans-serif" font-weight="bold" font-size="15.5" fill="#000">B</text>
<text x="1.6" y="283.8" font-family="Liberation Sans, sans-serif" font-weight="bold" font-size="15.5" fill="#000">C</text>
<text x="382.4" y="284.0" font-family="Liberation Sans, sans-serif" font-weight="bold" font-size="15.5" fill="#000">D</text>
</svg>
</body></html>
